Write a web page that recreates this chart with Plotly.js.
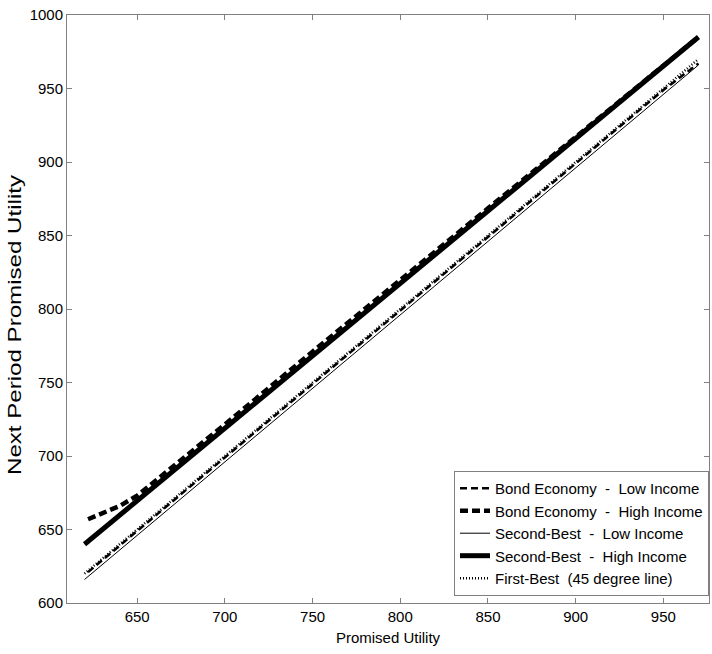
<!DOCTYPE html>
<html>
<head>
<meta charset="utf-8">
<script src="https://cdn.plot.ly/plotly-3.0.1.min.js"></script>
<style>
  html, body { margin: 0; padding: 0; background: #fff; }
  #chart { width: 712px; height: 654px; }
</style>
</head>
<body>
<div id="chart"></div>
<script>
// Promised utility grid and next-period promised utility for each economy
const promised = [620, 650, 700, 750, 800, 850, 900, 950, 970];
const firstBest = [620, 650, 700, 750, 800, 850, 900, 950, 970];
const secondBestLow = [616, 646, 696, 746, 796, 846, 896, 946, 966];
const secondBestHigh = [640, 669.6, 718.9, 768.2, 817.5, 866.8, 916.1, 965.4, 985];

const bondPromised = [622, 630, 640, 650, 675, 700, 750, 800, 850, 900, 950, 970];
const bondLow = [621, 629, 639, 649, 674, 699, 749, 799, 849, 899, 949, 967];
const bondHigh = [657, 661, 666, 673, 697, 721.5, 771, 820, 868.5, 917, 966, 985];

const seriesNames = [
  'Bond Economy\u00a0 -\u00a0 Low Income',
  'Bond Economy\u00a0 -\u00a0 High Income',
  'Second-Best\u00a0 -\u00a0 Low Income',
  'Second-Best\u00a0 -\u00a0 High Income',
  'First-Best\u00a0 (45 degree line)'
];

const xTicks = [650, 700, 750, 800, 850, 900, 950];
const yTicks = [600, 650, 700, 750, 800, 850, 900, 950, 1000];

const FONT = 'Liberation Sans, Arial, sans-serif';

const traces = [
  { x: bondPromised, y: bondLow, name: seriesNames[0], mode: 'lines',
    line: { color: '#000', width: 2.5, dash: '7px,4px' } },
  { x: bondPromised, y: bondHigh, name: seriesNames[1], mode: 'lines',
    line: { color: '#000', width: 4.5, dash: '8px,4px' } },
  { x: promised, y: secondBestLow, name: seriesNames[2], mode: 'lines',
    line: { color: '#000', width: 1 } },
  { x: promised, y: secondBestHigh, name: seriesNames[3], mode: 'lines',
    line: { color: '#000', width: 5 } },
  { x: promised, y: firstBest, name: seriesNames[4], mode: 'lines',
    line: { color: '#000', width: 2.5, dash: '1px,2px' } }
];

const axisCommon = {
  showline: true, mirror: 'ticks', linecolor: '#808080', linewidth: 1,
  ticks: 'inside', ticklen: 5, tickcolor: '#808080', tickwidth: 1,
  showgrid: false, zeroline: false,
  tickfont: { family: FONT, size: 15, color: '#000' }
};

const layout = {
  width: 712, height: 654,
  margin: { l: 67, r: 3, t: 15, b: 51 },
  paper_bgcolor: '#fff', plot_bgcolor: '#fff',
  font: { family: FONT, size: 15, color: '#000' },
  showlegend: true,
  legend: {
    x: 1, xanchor: 'right', y: 0.012, yanchor: 'bottom',
    bgcolor: '#fff', bordercolor: '#808080', borderwidth: 1,
    font: { family: FONT, size: 15, color: '#000' },
    tracegroupgap: 0, itemwidth: 30
  },
  xaxis: Object.assign({}, axisCommon, {
    range: [610, 976], tickvals: xTicks, ticktext: xTicks.map(String),
    title: { text: 'Promised Utility', font: { family: FONT, size: 15, color: '#000' }, standoff: 8 }
  }),
  yaxis: Object.assign({}, axisCommon, {
    range: [600, 1000], tickvals: yTicks, ticktext: yTicks.map(String),
    title: { text: 'Next Period Promised Utility', font: { family: FONT, size: 18, color: '#000' }, standoff: 8 }
  })
};

Plotly.newPlot('chart', traces, layout, { displayModeBar: false, staticPlot: true }).then(function (gd) {
  // The vertical axis label is set in a stretched face along its length
  const yTitle = gd.querySelector('.g-ytitle text');
  if (yTitle) {
    yTitle.setAttribute('textLength', '300');
    yTitle.setAttribute('lengthAdjust', 'spacingAndGlyphs');
    const g = gd.querySelector('.g-ytitle');
    g.setAttribute('transform', 'translate(5,16)');
  }
});
</script>
</body>
</html>
